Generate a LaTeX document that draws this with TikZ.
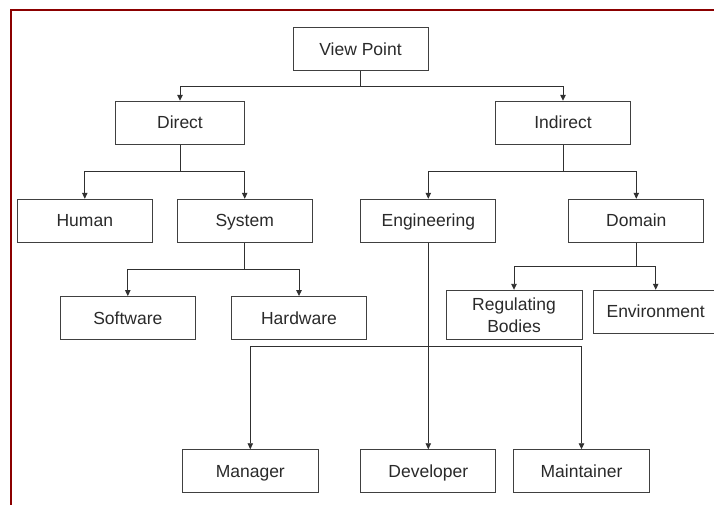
\documentclass[tikz,border=0pt]{standalone}
\usepackage{fontspec}
\setmainfont{Liberation Sans}
\usetikzlibrary{arrows.meta}
\definecolor{framered}{HTML}{8B0000}
\definecolor{boxline}{HTML}{404040}
\definecolor{txt}{HTML}{2A2A2A}
\definecolor{link}{HTML}{303030}
\tikzset{
  box/.style={draw=boxline, line width=0.9pt, fill=white, text=txt,
    minimum width=135pt, minimum height=43pt, inner sep=0pt, align=center,
    text height=14.5pt, text depth=2pt,
    font=\fontsize{17.5}{21}\selectfont},
  twoline/.style={text height=, text depth=},
  link/.style={draw=link, line width=0.9pt},
  arr/.style={link, -{Triangle[length=6pt,width=5.5pt]}}
}
\begin{document}
\begin{tikzpicture}[x=1pt,y=-1pt]
  \useasboundingbox (0,0) rectangle (714,504);
  \clip (0,0) rectangle (714,504);
  \fill[white] (0,0) rectangle (714,504);
  % outer frame (left and top edges visible)
  \draw[framered, line width=2.2pt] (11,530) -- (11,10) -- (740,10);

  % boxes
  \node[box] (vp)    at (360.5,49)    {View Point};
  \node[box, minimum width=129.5pt] (direct) at (180,122.7) {Direct};
  \node[box] (indirect) at (563,122.7) {Indirect};
  \node[box] (human)  at (84.8,220.7)  {Human};
  \node[box] (system) at (244.7,220.7) {System};
  \node[box] (eng)    at (428.3,220.7) {Engineering};
  \node[box] (domain) at (636.3,220.7) {Domain};
  \node[box] (soft)   at (127.8,318)   {Software};
  \node[box] (hard)   at (299,318)     {Hardware};
  \node[box, twoline, minimum width=136pt, minimum height=49.5pt] (reg) at (514,315) {Regulating\\[1pt]Bodies};
  \node[box, minimum width=125pt] (env) at (655.7,311.7) {Environment};
  \node[box, minimum width=136pt] (mgr)  at (250.3,471.2) {Manager};
  \node[box] (dev)  at (428.3,471.2) {Developer};
  \node[box, minimum width=136pt] (mnt)  at (581.5,471.2) {Maintainer};

  % junction points of the elbow connectors
  \coordinate (jvp)  at (vp.south |- 0,86);
  \coordinate (jdir) at (direct.south |- 0,171.7);
  \coordinate (jind) at (indirect.south |- 0,171.7);
  \coordinate (jsys) at (system.south |- 0,269.3);
  \coordinate (jdom) at (domain.south |- 0,266);
  \coordinate (jeng) at (eng.south |- 0,346);

  % View Point
  \draw[link] (vp.south) -- (jvp);
  \draw[arr] (jvp) -| (direct.north);
  \draw[arr] (jvp) -| (indirect.north);
  % Direct
  \draw[link] (direct.south) -- (jdir);
  \draw[arr] (jdir) -| (human.north);
  \draw[arr] (jdir) -| (system.north);
  % Indirect
  \draw[link] (indirect.south) -- (jind);
  \draw[arr] (jind) -| (eng.north);
  \draw[arr] (jind) -| (domain.north);
  % System
  \draw[link] (system.south) -- (jsys);
  \draw[arr] (jsys) -| (soft.north);
  \draw[arr] (jsys) -| (hard.north);
  % Domain
  \draw[link] (domain.south) -- (jdom);
  \draw[arr] (jdom) -| (reg.north);
  \draw[arr] (jdom) -| (env.north);
  % Engineering
  \draw[arr] (eng.south) -- (dev.north);
  \draw[arr] (jeng) -| (mgr.north);
  \draw[arr] (jeng) -| (mnt.north);
\end{tikzpicture}
\end{document}
